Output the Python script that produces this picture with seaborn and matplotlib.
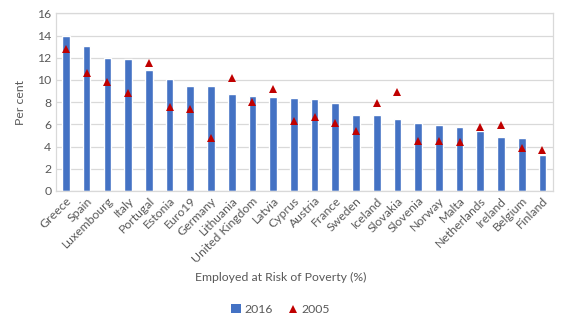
import matplotlib
matplotlib.use("Agg")
import matplotlib.pyplot as plt
import seaborn as sns
import pandas as pd
from matplotlib.patches import Patch
from matplotlib.lines import Line2D

countries = ["Greece", "Spain", "Luxembourg", "Italy", "Portugal", "Estonia",
             "Euro19", "Germany", "Lithuania", "United Kingdom", "Latvia",
             "Cyprus", "Austria", "France", "Sweden", "Iceland", "Slovakia",
             "Slovenia", "Norway", "Malta", "Netherlands", "Ireland",
             "Belgium", "Finland"]
values_2016 = [14.0, 13.1, 12.0, 11.9, 10.9, 10.1, 9.5, 9.5, 8.7, 8.6, 8.5,
               8.4, 8.3, 7.9, 6.8, 6.8, 6.5, 6.1, 5.9, 5.8, 5.4, 4.9, 4.8, 3.2]
values_2005 = [12.8, 10.6, 9.8, 8.8, 11.5, 7.6, 7.4, 4.8, 10.2, 8.0, 9.2,
               6.3, 6.7, 6.1, 5.4, 7.9, 8.9, 4.5, 4.5, 4.4, 5.8, 5.9, 3.9, 3.7]
y_ticks = [0, 2, 4, 6, 8, 10, 12, 14, 16]

df = pd.DataFrame({"country": countries, "y2016": values_2016, "y2005": values_2005})

sns.set_theme(style="white")
plt.rcParams["font.family"] = ["Lato", "DejaVu Sans"]

bar_color = "#4472C4"
tri_color = "#C00000"
text_color = "#595959"
grid_color = "#D9D9D9"

fig = plt.figure(figsize=(5.67, 3.28), dpi=100)
ax = fig.add_axes([0.098, 0.418, 0.877, 0.541])

sns.barplot(data=df, x="country", y="y2016", order=countries, color=bar_color,
            width=0.37, saturation=1, ax=ax, zorder=2)
sns.pointplot(data=df, x="country", y="y2005", order=countries, color=tri_color,
              markers="^", linestyles="none", markersize=6, markeredgewidth=0,
              ax=ax, zorder=3)

ax.set_xlim(-0.5, len(countries) - 0.5)
ax.set_ylim(0, 16)
ax.set_yticks(y_ticks)
ax.yaxis.grid(True, color=grid_color, linewidth=0.9, zorder=0)
ax.set_axisbelow(True)
for s in ax.spines.values():
    s.set_color(grid_color)
    s.set_linewidth(0.9)

ax.tick_params(axis="both", length=0, colors=text_color, labelsize=8.8, pad=3)
plt.setp(ax.get_xticklabels(), rotation=45, ha="right", rotation_mode="anchor")

ax.set_ylabel("Per cent", color=text_color, fontsize=8.8, labelpad=8)
ax.set_xlabel("")
fig.text(0.495, 0.155, "Employed at Risk of Poverty (%)", ha="center", va="center",
         color=text_color, fontsize=8.8)

handles = [Patch(facecolor=bar_color, edgecolor="none"),
           Line2D([], [], marker="^", color=tri_color, linestyle="none",
                  markersize=6, markeredgewidth=0)]
fig.legend(handles, ["2016", "2005"], loc="center", bbox_to_anchor=(0.495, 0.057),
           ncol=2, frameon=False, fontsize=8.8, labelcolor=text_color,
           handlelength=0.8, handletextpad=0.3, columnspacing=1.2)

fig.savefig("out.png", dpi=100)
